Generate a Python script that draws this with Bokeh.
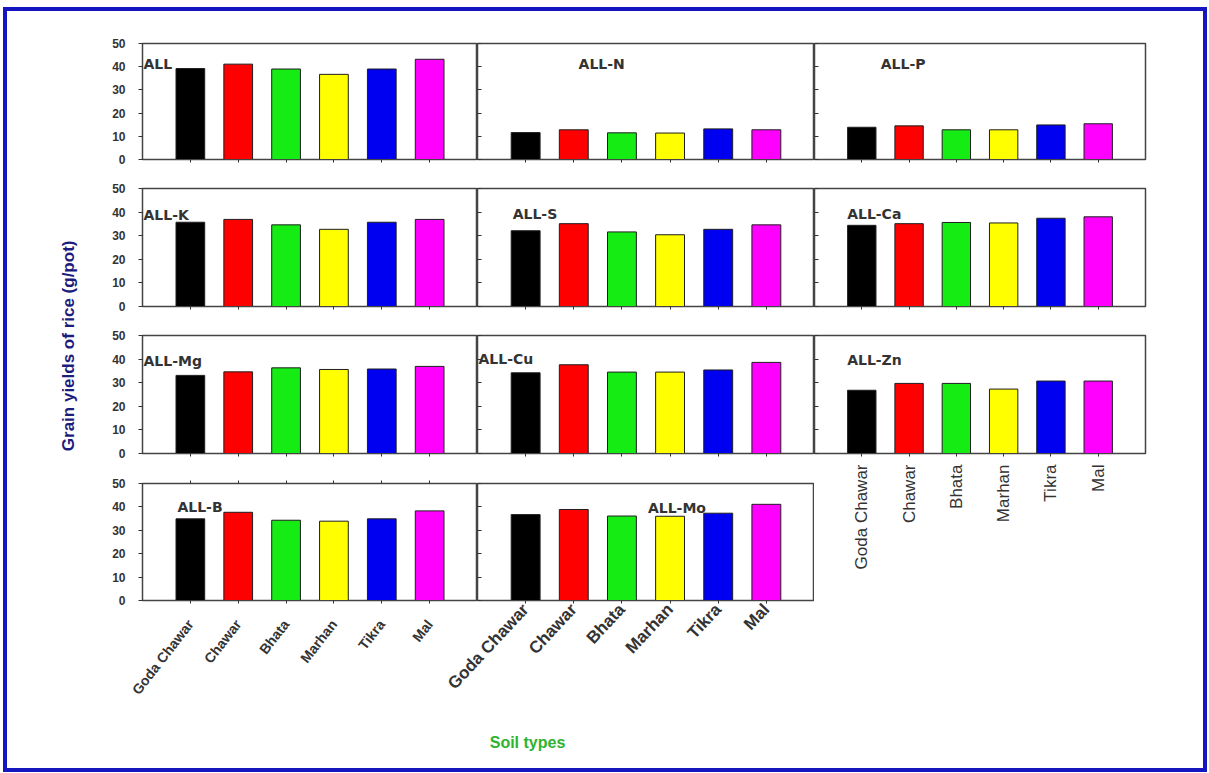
import math
from bokeh.plotting import figure
from bokeh.models import Range1d, FixedTicker, Label, LinearAxis, ColumnDataSource
from bokeh.layouts import row, column
from bokeh.embed import file_html
from bokeh.resources import INLINE

# ---------------- data ----------------
categories = ["Goda Chawar", "Chawar", "Bhata", "Marhan", "Tikra", "Mal"]
bar_colors = ["#000000", "#ff0000", "#14ec14", "#ffff00", "#0000f0", "#ff00ff"]

panel_names = ["ALL", "ALL-N", "ALL-P", "ALL-K", "ALL-S", "ALL-Ca",
               "ALL-Mg", "ALL-Cu", "ALL-Zn", "ALL-B", "ALL-Mo"]

vals_all = [39.2, 41.1, 39.0, 36.7, 39.0, 43.2]
vals_n = [11.6, 12.8, 11.5, 11.4, 13.2, 12.8]
vals_p = [13.9, 14.5, 12.8, 12.8, 14.9, 15.4]
vals_k = [35.7, 36.9, 34.6, 32.7, 35.7, 36.9]
vals_s = [32.1, 35.1, 31.6, 30.4, 32.7, 34.6]
vals_ca = [34.4, 35.1, 35.6, 35.4, 37.4, 38.0]
vals_mg = [33.1, 34.6, 36.3, 35.6, 35.8, 36.9]
vals_cu = [34.2, 37.6, 34.5, 34.5, 35.4, 38.6]
vals_zn = [26.8, 29.7, 29.7, 27.3, 30.7, 30.7]
vals_b = [34.9, 37.7, 34.3, 33.9, 34.9, 38.3]
vals_mo = [36.7, 38.9, 36.1, 36.0, 37.3, 41.1]

y_ticks = [0, 10, 20, 30, 40, 50]
y_title = "Grain yields  of rice (g/pot)"
x_title = "Soil types"

# ---------------- layout / style ----------------
FRAME_W = [335, 337, 331]
BORDER_L = [40, 0, 0]
BORDER_R = [0, 0, 58]
FRAME_COLOR = "#444444"
TICK_COLOR = "#333333"
ROW_D_BOTTOM = 104
OVERLAP = 40

# panel label anchor (x in 0..7 axis units, y in data units)
label_pos = {
    "ALL": (0.02, 41.0), "ALL-N": (2.1, 41.0), "ALL-P": (1.4, 41.0),
    "ALL-K": (0.02, 38.6), "ALL-S": (0.73, 39.4), "ALL-Ca": (0.69, 39.4),
    "ALL-Mg": (0.02, 39.0), "ALL-Cu": (0.02, 40.0), "ALL-Zn": (0.69, 39.8),
    "ALL-B": (0.73, 40.0), "ALL-Mo": (3.54, 39.7),
}

xpos = [i + 1 for i in range(len(categories))]


def hide_labels(ax):
    ax.major_label_text_font_size = "0px"
    ax.major_label_text_color = None
    ax.major_label_standoff = 0


def panel(name, vals, col, frame_h, top, bottom, xlabels=None, label_angle=0.0,
          label_size="14px", label_style="normal", label_standoff=4, top_ticks=False,
          overlap_left=0):
    p = figure(x_range=Range1d(0, len(categories) + 1), y_range=Range1d(0, 50),
               frame_width=FRAME_W[col], frame_height=frame_h,
               min_border_left=BORDER_L[col] + overlap_left, min_border_right=BORDER_R[col],
               min_border_top=top, min_border_bottom=bottom,
               output_backend="svg", toolbar_location=None,
               background_fill_color="white",
               border_fill_color=None if overlap_left else "white")
    if overlap_left:
        p.margin = (0, 0, 0, -overlap_left)
    p.grid.visible = False
    p.outline_line_color = FRAME_COLOR
    p.outline_line_width = 1.5

    src = ColumnDataSource(dict(x=xpos, top=vals, color=bar_colors))
    p.vbar(x="x", top="top", bottom=0, width=0.6, fill_color="color",
           line_color="#1e1e1e", line_width=1, source=src)

    # y axis
    ya = p.yaxis[0]
    ya.ticker = FixedTicker(ticks=y_ticks)
    ya.axis_line_color = FRAME_COLOR
    ya.major_tick_line_color = TICK_COLOR
    ya.minor_tick_line_color = None
    if col == 0:
        ya.major_tick_out = 4
        ya.major_tick_in = 0
        ya.major_label_standoff = 13
        ya.major_label_text_font = "Liberation Sans"
        ya.major_label_text_font_style = "bold"
        ya.major_label_text_font_size = "12px"
        ya.major_label_text_color = "#333333"
    else:
        ya.major_tick_out = 0
        ya.major_tick_in = 4
        hide_labels(ya)

    # x axis
    xa = p.xaxis[0]
    xa.ticker = FixedTicker(ticks=xpos)
    xa.axis_line_color = FRAME_COLOR
    xa.major_tick_line_color = TICK_COLOR
    xa.minor_tick_line_color = None
    xa.major_tick_out = 3
    xa.major_tick_in = 0
    if xlabels:
        xa.major_label_overrides = {x: c for x, c in zip(xpos, categories)}
        xa.major_label_orientation = label_angle
        xa.major_label_text_font = "Liberation Sans"
        xa.major_label_text_font_size = label_size
        xa.major_label_text_font_style = label_style
        xa.major_label_text_color = "#333333"
        xa.major_label_standoff = label_standoff
    else:
        hide_labels(xa)

    if top_ticks:
        ta = LinearAxis(ticker=FixedTicker(ticks=xpos), major_tick_out=3, major_tick_in=0,
                        axis_line_color=FRAME_COLOR, major_tick_line_color=TICK_COLOR,
                        minor_tick_line_color=None)
        hide_labels(ta)
        p.add_layout(ta, "above")

    lx, ly = label_pos[name]
    p.add_layout(Label(x=lx, y=ly, text=name, text_font="DejaVu Sans",
                       text_font_style="bold", text_font_size="14px",
                       text_color="#333333", text_align="left",
                       text_baseline="middle"))
    return p


pA1 = panel("ALL", vals_all, 0, 116, 32, 14)
pA2 = panel("ALL-N", vals_n, 1, 116, 32, 14)
pA3 = panel("ALL-P", vals_p, 2, 116, 32, 14)

pB1 = panel("ALL-K", vals_k, 0, 118, 15, 15)
pB2 = panel("ALL-S", vals_s, 1, 118, 15, 15)
pB3 = panel("ALL-Ca", vals_ca, 2, 118, 15, 15)

pC1 = panel("ALL-Mg", vals_mg, 0, 118, 14, 15)
pC2 = panel("ALL-Cu", vals_cu, 1, 118, 14, 15)
pC3 = panel("ALL-Zn", vals_zn, 2, 118, 14, 15 + 15 + 117 + ROW_D_BOTTOM, xlabels=True,
            label_angle=math.pi / 2, label_size="17px", label_standoff=8)

pD1 = panel("ALL-B", vals_b, 0, 117, 15, ROW_D_BOTTOM, xlabels=True,
            label_angle=0.91, label_size="14px", label_style="bold",
            label_standoff=18, top_ticks=True)
pD2 = panel("ALL-Mo", vals_mo, 1, 117, 15, ROW_D_BOTTOM, xlabels=True,
            label_angle=0.82, label_size="17px", label_style="bold",
            label_standoff=3, overlap_left=OVERLAP)

CONTENT_H = 756
SF_H = CONTENT_H - (162 + 148 + 147 + 15 + 117 + ROW_D_BOTTOM)

# y title figure
tf = figure(frame_width=95, frame_height=CONTENT_H, x_range=Range1d(0, 95),
            y_range=Range1d(0, CONTENT_H),
            min_border=0, output_backend="svg", toolbar_location=None)
tf.axis.visible = False
tf.grid.visible = False
tf.outline_line_color = None
tf.add_layout(Label(x=61, y=424, text=y_title, angle=math.pi / 2,
                    text_font="Liberation Sans", text_font_style="bold",
                    text_font_size="17px", text_color="#1c1c7c",
                    text_align="center", text_baseline="middle"))

# x title figure
SF_W = 375 + 337 + 331 + 58
sf = figure(frame_width=SF_W, frame_height=SF_H, x_range=Range1d(0, SF_W),
            y_range=Range1d(0, SF_H),
            min_border=0, output_backend="svg", toolbar_location=None)
sf.axis.visible = False
sf.grid.visible = False
sf.outline_line_color = None
sf.add_layout(Label(x=425, y=SF_H - 37, text=x_title,
                    text_font="Liberation Sans", text_font_style="bold",
                    text_font_size="16px", text_color="#2eb42e",
                    text_align="center", text_baseline="middle"))

left_cd = column(row(pC1, pC2), row(pD1, pD2))
main = column(row(pA1, pA2, pA3), row(pB1, pB2, pB3), row(left_cd, pC3), sf)
page = row(tf, main, styles={"border": "4px solid #1616c0", "margin": "7px 0px 0px 3px"})

open("out.html", "w").write(file_html(page, INLINE))
